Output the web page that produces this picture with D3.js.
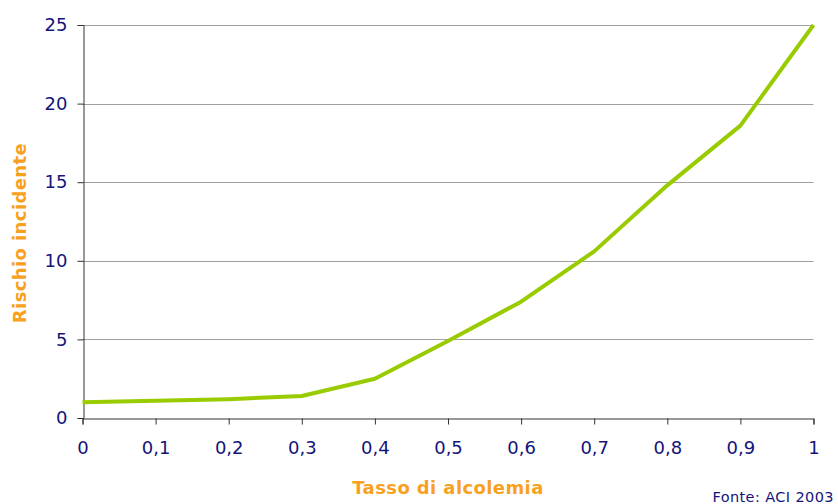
<!DOCTYPE html>
<html>
<head>
<meta charset="utf-8">
<script src="https://cdn.jsdelivr.net/npm/d3@7"></script>
<style>
  html, body { margin: 0; padding: 0; background: #fff; }
  svg { display: block; }
</style>
</head>
<body>
<script>
// Blood alcohol level vs. relative accident risk
const alcolemia = [0, 0.1, 0.2, 0.3, 0.4, 0.5, 0.6, 0.7, 0.8, 0.9, 1];
const rischio   = [1.0, 1.1, 1.2, 1.4, 2.5, 4.9, 7.4, 10.6, 14.8, 18.6, 25];
const yTicks    = [0, 5, 10, 15, 20, 25];
const xTicks    = [0, 0.1, 0.2, 0.3, 0.4, 0.5, 0.6, 0.7, 0.8, 0.9, 1];

const W = 838, H = 504;
const margin = { left: 82.5, right: 24.5, top: 25, bottom: 86 };

const navy = "#14147a", orange = "#f7a11e", green = "#99cc00";
const font = "'DejaVu Sans', Verdana, sans-serif";

const svg = d3.select("body").append("svg")
  .attr("width", W).attr("height", H)
  .style("font-family", font);

const x = d3.scaleLinear().domain([0, 1]).range([margin.left, W - margin.right]);
const y = d3.scaleLinear().domain([0, 25]).range([H - margin.bottom, margin.top]);

// horizontal gridlines
svg.append("g")
  .selectAll("line")
  .data(yTicks.filter(d => d > 0))
  .join("line")
  .attr("x1", x(0)).attr("x2", x(1))
  .attr("y1", d => Math.round(y(d)) + 0.5).attr("y2", d => Math.round(y(d)) + 0.5)
  .attr("stroke", "#a0a0a0").attr("stroke-width", 1);

// y axis
const yAxis = svg.append("g")
  .attr("transform", `translate(${Math.round(x(0)) + 0.5},0)`)
  .call(d3.axisLeft(y).tickValues(yTicks).tickSize(6).tickPadding(10).tickFormat(d3.format("d")));
yAxis.select(".domain").attr("stroke", "#333");
yAxis.selectAll(".tick line").attr("stroke", "#333");
yAxis.selectAll(".tick text").attr("fill", navy).style("font-size", "18px").style("font-family", font);

// x axis
const fmtX = d => d3.format("~g")(d).replace(".", ",");
const xAxis = svg.append("g")
  .attr("transform", `translate(0,${Math.round(y(0)) + 0.5})`)
  .call(d3.axisBottom(x).tickValues(xTicks).tickSize(6).tickPadding(17).tickFormat(fmtX));
xAxis.select(".domain").attr("stroke", "#333");
xAxis.selectAll(".tick line").attr("stroke", "#333");
xAxis.selectAll(".tick text").attr("fill", navy).style("font-size", "18px").style("font-family", font);

// data line
svg.append("path")
  .datum(alcolemia.map((a, i) => [a, rischio[i]]))
  .attr("fill", "none")
  .attr("stroke", green)
  .attr("stroke-width", 4)
  .attr("stroke-linejoin", "round")
  .attr("d", d3.line().x(d => x(d[0])).y(d => y(d[1])));

// axis titles
svg.append("text")
  .attr("x", 448).attr("y", 494)
  .attr("text-anchor", "middle")
  .attr("fill", orange)
  .style("font-size", "18px").style("font-weight", "bold")
  .style("letter-spacing", "0.4px")
  .text("Tasso di alcolemia");

svg.append("text")
  .attr("transform", `translate(26,233) rotate(-90)`)
  .attr("text-anchor", "middle")
  .attr("fill", orange)
  .style("font-size", "18px").style("font-weight", "bold")
  .style("letter-spacing", "0.4px")
  .text("Rischio incidente");

// source note
svg.append("text")
  .attr("x", 834).attr("y", 502)
  .attr("text-anchor", "end")
  .attr("fill", navy)
  .style("font-size", "14.5px")
  .style("letter-spacing", "0.4px")
  .text("Fonte: ACI 2003");
</script>
</body>
</html>
